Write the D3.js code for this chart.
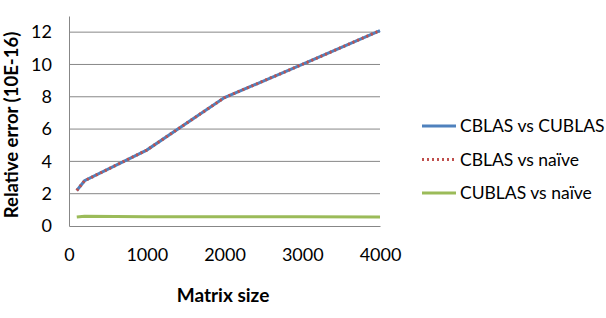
<!DOCTYPE html>
<html>
<head>
<meta charset="utf-8">
<script src="https://cdn.jsdelivr.net/npm/d3@7"></script>
<style>
  body { margin: 0; background: #fff; }
  svg { font-family: Lato, "Open Sans", sans-serif; }
</style>
</head>
<body>
<svg id="chart" width="606" height="318"></svg>
<script>
const sizes = [100, 200, 1000, 2000, 3000, 4000];
const cblasVsCublas = [2.2, 2.8, 4.7, 7.95, 10.0, 12.1];
const cblasVsNaive = [2.2, 2.8, 4.7, 7.95, 10.0, 12.1];
const cublasVsNaive = [0.55, 0.6, 0.57, 0.57, 0.57, 0.56];
const yTicks = [0, 2, 4, 6, 8, 10, 12];
const xTicks = [0, 1000, 2000, 3000, 4000];

const series = [
  { name: 'CBLAS vs CUBLAS', values: cblasVsCublas, color: '#4f81bd', dash: null },
  { name: 'CBLAS vs naïve', values: cblasVsNaive, color: '#c0504d', dash: '2,3' },
  { name: 'CUBLAS vs naïve', values: cublasVsNaive, color: '#9bbb59', dash: null }
];

const svg = d3.select('#chart');
const plotLeft = 69, plotRight = 380, plotTop = 16, plotBottom = 226;

const x = d3.scaleLinear().domain([0, 4000]).range([plotLeft, plotRight]);
const y = d3.scaleLinear().domain([0, 13]).range([plotBottom, plotTop]);

// gridlines
svg.append('g')
  .selectAll('line')
  .data(yTicks.filter(d => d > 0))
  .enter()
  .append('line')
  .attr('x1', plotLeft)
  .attr('x2', plotRight)
  .attr('y1', d => y(d))
  .attr('y2', d => y(d))
  .attr('stroke', '#878787')
  .attr('stroke-width', 1);

// axes
const yAxis = svg.append('g')
  .attr('transform', 'translate(' + plotLeft + ',0)')
  .call(d3.axisLeft(y).tickValues(yTicks).tickSize(0).tickPadding(17));
const xAxis = svg.append('g')
  .attr('transform', 'translate(0,' + plotBottom + ')')
  .call(d3.axisBottom(x).tickValues(xTicks).tickFormat(d3.format('d'))
    .tickSize(0).tickPadding(22));

[yAxis, xAxis].forEach(a => {
  a.select('.domain').attr('stroke', '#878787').attr('stroke-width', 1);
  a.selectAll('text').attr('font-size', '18px').attr('fill', '#000')
    .attr('font-family', 'Lato, sans-serif');
});

// lines
const line = d3.line()
  .x((d, i) => x(sizes[i]))
  .y(d => y(d));

series.forEach(s => {
  svg.append('path')
    .datum(s.values)
    .attr('fill', 'none')
    .attr('stroke', s.color)
    .attr('stroke-width', 3)
    .attr('stroke-dasharray', s.dash)
    .attr('d', line);
});

// axis titles
svg.append('text')
  .attr('transform', 'translate(18,' + (plotTop + plotBottom + 8) / 2 + ') rotate(-90)')
  .attr('text-anchor', 'middle')
  .attr('font-size', '18.5px')
  .attr('font-weight', 'bold')
  .text('Relative error (10E-16)');

svg.append('text')
  .attr('x', 223)
  .attr('y', 302)
  .attr('text-anchor', 'middle')
  .attr('font-size', '19px')
  .attr('font-weight', 'bold')
  .text('Matrix size');

// legend
const legend = svg.append('g').attr('transform', 'translate(422,126)');
series.forEach((s, i) => {
  const g = legend.append('g').attr('transform', 'translate(0,' + i * 33.5 + ')');
  g.append('line')
    .attr('x1', 0).attr('x2', 34)
    .attr('stroke', s.color)
    .attr('stroke-width', 3)
    .attr('stroke-dasharray', s.dash);
  g.append('text')
    .attr('x', 38)
    .attr('dy', '0.35em')
    .attr('font-size', '17.5px')
    .text(s.name);
});
</script>
</body>
</html>
